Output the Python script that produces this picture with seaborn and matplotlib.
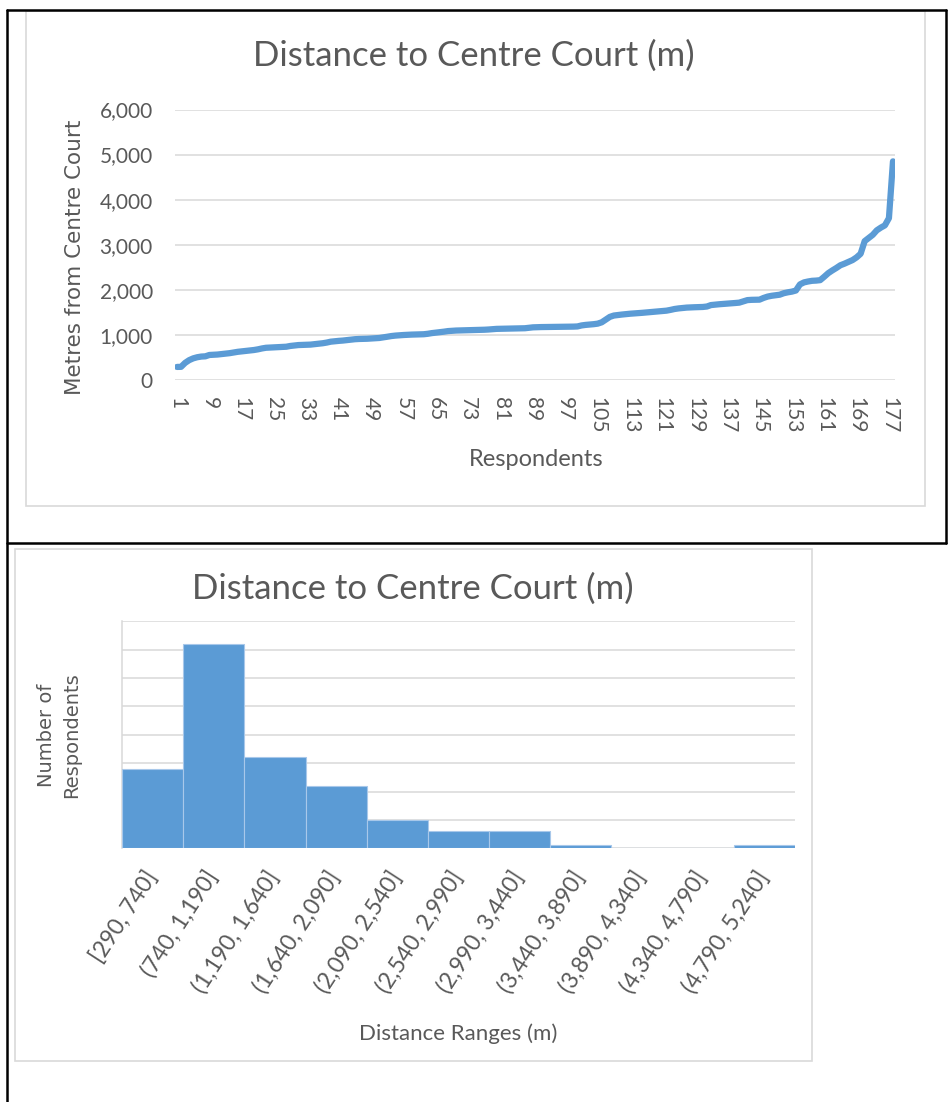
import matplotlib
matplotlib.use('Agg')
import matplotlib.pyplot as plt
import seaborn as sns
from matplotlib.lines import Line2D
from matplotlib.patches import Rectangle
from matplotlib.ticker import StrMethodFormatter

# Data: distances sorted by respondent (m)
distances = [
    290, 292, 380, 440, 480, 505, 520, 525, 555, 560,
    565, 575, 585, 595, 610, 625, 635, 645, 655, 665,
    680, 700, 715, 720, 725, 730, 735, 738, 755, 765,
    775, 778, 780, 785, 795, 805, 815, 830, 850, 860,
    868, 875, 885, 895, 905, 910, 912, 915, 920, 925,
    932, 945, 960, 975, 985, 992, 998, 1003, 1007, 1010,
    1012, 1015, 1025, 1040, 1050, 1060, 1072, 1085, 1092, 1097,
    1100, 1103, 1105, 1108, 1110, 1112, 1115, 1120, 1128, 1134,
    1136, 1138, 1140, 1141, 1143, 1145, 1148, 1158, 1168, 1172,
    1174, 1175, 1176, 1177, 1178, 1179, 1180, 1182, 1184, 1188,
    1210, 1222, 1230, 1238, 1250, 1280, 1340, 1400, 1430, 1442,
    1452, 1462, 1470, 1476, 1482, 1490, 1498, 1505, 1512, 1520,
    1528, 1538, 1555, 1575, 1588, 1598, 1606, 1611, 1614, 1617,
    1620, 1630, 1662, 1672, 1680, 1688, 1694, 1700, 1708, 1716,
    1745, 1772, 1778, 1780, 1782, 1820, 1850, 1868, 1880, 1892,
    1925, 1945, 1960, 1985, 2120, 2165, 2185, 2200, 2205, 2215,
    2290, 2370, 2430, 2485, 2545, 2580, 2620, 2660, 2720, 2800,
    3080, 3150, 3220, 3320, 3380, 3430, 3590, 4850,
]
respondents = list(range(1, len(distances) + 1))

# Histogram bins and counts
bin_labels = ['[290, 740]', '(740, 1,190]', '(1,190, 1,640]', '(1,640, 2,090]',
              '(2,090, 2,540]', '(2,540, 2,990]', '(2,990, 3,440]', '(3,440, 3,890]',
              '(3,890, 4,340]', '(4,340, 4,790]', '(4,790, 5,240]']
bin_counts = [28, 72, 32, 22, 10, 6, 6, 1, 0, 0, 1]

BLUE = '#5B9BD5'
TEXT = '#595959'
GRID = '#D9D9D9'
W, H = 949, 1102

sns.set_theme(style='white')
plt.rcParams['font.family'] = ['Lato', 'DejaVu Sans']


def box(l, t, r, b):
    return [l / W, 1 - b / H, (r - l) / W, (b - t) / H]


fig = plt.figure(figsize=(W / 100, H / 100), dpi=100)

# table borders and chart frames
def hline(x0, x1, y, color='black', lw=1.8):
    fig.add_artist(Line2D([x0 / W, x1 / W], [1 - y / H, 1 - y / H], color=color, lw=lw,
                          transform=fig.transFigure))

def vline(x, y0, y1, color='black', lw=1.8):
    fig.add_artist(Line2D([x / W, x / W], [1 - y0 / H, 1 - y1 / H], color=color, lw=lw,
                          transform=fig.transFigure))

for l, t, r, b in [(26, 11, 925, 506), (15, 549, 812, 1061)]:
    fig.add_artist(Rectangle((l / W, 1 - b / H), (r - l) / W, (b - t) / H, fill=False,
                             edgecolor=GRID, lw=1.2, transform=fig.transFigure))
hline(7, 946, 9.5)
hline(7, 946, 543.5)
vline(7, 9.5, 1102)
vline(946, 9.5, 543.5)

# ---- line chart ----
ax1 = fig.add_axes(box(175, 109.5, 895, 380))
sns.lineplot(x=respondents, y=distances, ax=ax1, color=BLUE, linewidth=4.5,
             solid_capstyle='round', solid_joinstyle='round', zorder=3)
ax1.set_xlim(0.5, len(distances) + 0.5)
ax1.set_ylim(0, 6000)
ax1.set_yticks(range(0, 6001, 1000))
ax1.yaxis.set_major_formatter(StrMethodFormatter('{x:,.0f}'))
ax1.set_xticks(range(1, len(distances) + 1, 8))
ax1.set_xticklabels([str(v) for v in range(1, len(distances) + 1, 8)], rotation=270)
ax1.grid(axis='y', color=GRID, lw=1.1)
ax1.set_axisbelow(True)
for s in ax1.spines.values():
    s.set_visible(False)
ax1.tick_params(axis='y', length=0, pad=16, labelsize=15, labelcolor=TEXT)
ax1.tick_params(axis='x', length=0, pad=12, labelsize=15, labelcolor=TEXT)
ax1.set_xlabel('')
ax1.set_ylabel('')

fig.text(474 / W, 1 - 56 / H, 'Distance to Centre Court (m)', ha='center', va='center',
         fontsize=25, color=TEXT)
fig.text(75 / W, 1 - 257 / H, 'Metres from Centre Court', ha='center', va='center',
         rotation=90, fontsize=15.5, color=TEXT, family='DejaVu Sans')
fig.text(536 / W, 1 - 459 / H, 'Respondents', ha='center', va='center',
         fontsize=17, color=TEXT)

# ---- histogram ----
ax2 = fig.add_axes(box(122, 621.4, 795, 848.2))
sns.barplot(x=bin_labels, y=bin_counts, ax=ax2, color=BLUE, saturation=1, width=1.0,
            edgecolor='#A8C8EA', linewidth=0.8, zorder=3)
ax2.set_xlim(-0.5, len(bin_labels) - 0.5)
ax2.set_ylim(0, 80)
ax2.set_yticks(range(0, 81, 10))
ax2.set_yticklabels([])
ax2.grid(axis='y', color=GRID, lw=1.1)
ax2.set_axisbelow(True)
for s in ax2.spines.values():
    s.set_visible(False)
ax2.spines['left'].set_visible(True)
ax2.spines['left'].set_color(GRID)
ax2.spines['left'].set_linewidth(1.1)
ax2.tick_params(axis='y', length=0)
ax2.tick_params(axis='x', length=0, pad=18, labelsize=16.5, labelcolor=TEXT)
for lab in ax2.get_xticklabels():
    lab.set_rotation(57)
    lab.set_ha('right')
    lab.set_va('center')
    lab.set_rotation_mode('anchor')
ax2.set_xlabel('')
ax2.set_ylabel('')

fig.text(413 / W, 1 - 589 / H, 'Distance to Centre Court (m)', ha='center', va='center',
         fontsize=25, color=TEXT)
fig.text(59 / W, 1 - 735 / H, 'Number of\nRespondents', ha='center', va='center',
         rotation=90, fontsize=14, color=TEXT, family='DejaVu Sans', linespacing=1.45)
fig.text(458 / W, 1 - 1034 / H, 'Distance Ranges (m)', ha='center', va='center',
         fontsize=16, color=TEXT)

fig.savefig('out.png', dpi=100)
